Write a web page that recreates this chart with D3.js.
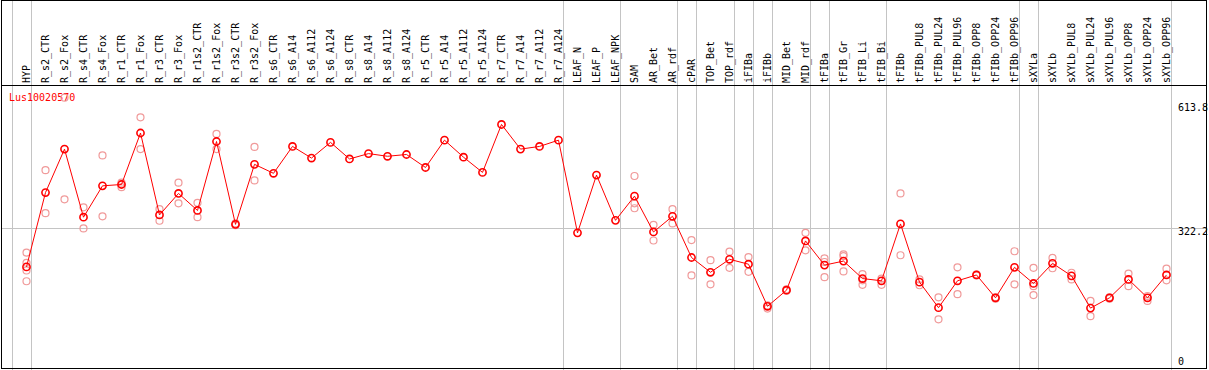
<!DOCTYPE html>
<html>
<head>
<meta charset="utf-8">
<script src="https://cdn.jsdelivr.net/npm/d3@7"></script>
<style>
  html, body { margin: 0; padding: 0; background: #fff; }
  svg { display: block; }
  text { font-family: 'DejaVu Sans Mono', monospace; font-size: 10px; }
</style>
</head>
<body>
<div id="chart"></div>
<script>
// ////////////////////////////////////////////////////////////////////////////
// DATA
// ////////////////////////////////////////////////////////////////////////////
const geneName = 'Lus10020570';

// sample groups, separated by grey rules
const groups = [
  ['HYP'],
  ['R_s2_CTR', 'R_s2_Fox', 'R_s4_CTR', 'R_s4_Fox', 'R_r1_CTR', 'R_r1_Fox', 'R_r3_CTR', 'R_r3_Fox',
    'R_r1s2_CTR', 'R_r1s2_Fox', 'R_r3s2_CTR', 'R_r3s2_Fox', 'R_s6_CTR', 'R_s6_A14', 'R_s6_A112',
    'R_s6_A124', 'R_s8_CTR', 'R_s8_A14', 'R_s8_A112', 'R_s8_A124', 'R_r5_CTR', 'R_r5_A14',
    'R_r5_A112', 'R_r5_A124', 'R_r7_CTR', 'R_r7_A14', 'R_r7_A112', 'R_r7_A124'],
  ['LEAF_N', 'LEAF_P', 'LEAF_NPK'],
  ['SAM', 'AR_Bet', 'AR_rdf'],
  ['cPAR'],
  ['TOP_Bet', 'TOP_rdf'],
  ['iFIBa'],
  ['iFIBb'],
  ['MID_Bet', 'MID_rdf'],
  ['tFIBa'],
  ['tFIB_Gr', 'tFIB_Li', 'tFIB_Bi'],
  ['tFIBb', 'tFIBb_PUL8', 'tFIBb_PUL24', 'tFIBb_PUL96', 'tFIBb_OPP8', 'tFIBb_OPP24', 'tFIBb_OPP96'],
  ['sXYLa'],
  ['sXYLb', 'sXYLb_PUL8', 'sXYLb_PUL24', 'sXYLb_PUL96', 'sXYLb_OPP8', 'sXYLb_OPP24', 'sXYLb_OPP96'],
];

const samples = groups.flat();

// mean expression per sample
const means = [
  236,
  402, 499, 347, 417, 420, 535, 352, 400, 362, 516, 331, 465,
  445, 505, 479, 514, 477, 489, 483, 487, 458, 519, 481, 447,
  554, 499, 505, 519,
  312, 441, 340,
  394, 314, 349,
  257,
  224, 253,
  242,
  148,
  184, 294,
  240,
  249, 210, 205,
  332, 202, 145, 205, 218, 167, 235,
  199,
  244, 216, 144, 167, 208, 167, 218,
];

// individual replicates per sample
const replicates = [
  [268, 245, 228, 204],
  [452, 356], [613.8, 387], [369, 322], [485, 349], [424, 414], [570, 499],
  [365, 339], [424, 378], [379, 347], [533, 499], [333, 329], [504, 429],
  [], [], [], [], [], [], [], [], [], [], [], [],
  [], [], [], [],
  [], [], [],
  [439, 378, 367], [330, 295], [365, 333],
  [296, 217],
  [251, 197], [270, 234],
  [258, 225],
  [150, 143],
  [186, 183], [312, 273],
  [255, 247, 213],
  [264, 260, 226], [220, 206, 196], [210, 196],
  [400, 262], [208, 195], [168, 119], [235, 175], [219, 217], [168, 165], [271, 197],
  [234, 193, 173],
  [256, 233], [223, 208], [160, 126], [168, 165], [221, 193], [171, 160], [232, 206],
];

const yTicks = [613.8, 322.2, 0];

// ////////////////////////////////////////////////////////////////////////////
// SETUP
// ////////////////////////////////////////////////////////////////////////////
const W = 1209;
const H = 370;
const labelBottom = 86;
const red = '#ff0000';
const pink = '#f09a9a';
const grey = '#c4c4c4';

const svg = d3.select('#chart').append('svg')
  .attr('width', W)
  .attr('height', H);

const x = d3.scalePoint()
  .domain(samples)
  .range([26.5, 1166.5]);

const y = d3.scaleLinear()
  .domain([0, 613.8])
  .range([372.6, 97.7]);

// ////////////////////////////////////////////////////////////////////////////
// GRID
// ////////////////////////////////////////////////////////////////////////////
// group separators sit just right of the last sample in each group
const sepX = [x(samples[0]) - x.step() + 4].concat(groups.map(g => x(g[g.length - 1]) + 4));

svg.selectAll('.sep')
  .data(sepX)
  .enter().append('line')
    .attr('class', 'sep')
    .attr('x1', d => Math.round(d) + 0.5)
    .attr('x2', d => Math.round(d) + 0.5)
    .attr('y1', 0)
    .attr('y2', H)
    .attr('stroke', grey);

svg.append('line')
  .attr('x1', 1)
  .attr('x2', 1206)
  .attr('y1', Math.round(y(322.2)) + 0.5)
  .attr('y2', Math.round(y(322.2)) + 0.5)
  .attr('stroke', grey);

// ////////////////////////////////////////////////////////////////////////////
// FRAME + LABELS
// ////////////////////////////////////////////////////////////////////////////
svg.append('rect')
  .attr('x', 1.5)
  .attr('y', 0.5)
  .attr('width', 1205)
  .attr('height', 368)
  .attr('fill', 'none')
  .attr('stroke', '#000');

svg.append('line')
  .attr('x1', 1)
  .attr('x2', 1206)
  .attr('y1', labelBottom - 0.5)
  .attr('y2', labelBottom - 0.5)
  .attr('stroke', '#000');

svg.selectAll('.sample-label')
  .data(samples)
  .enter().append('text')
    .attr('class', 'sample-label')
    .attr('transform', d => `translate(${x(d) + 3.5}, 83) rotate(-90)`)
    .attr('fill', '#000')
    .text(d => d);

svg.selectAll('.y-label')
  .data(yTicks)
  .enter().append('text')
    .attr('class', 'y-label')
    .attr('x', 1178)
    .attr('y', d => Math.max(111, Math.min(365, y(d) + 7)))
    .attr('fill', '#000')
    .text(d => d);

svg.append('text')
  .attr('x', 9)
  .attr('y', 101)
  .attr('fill', red)
  .text(geneName);

// ////////////////////////////////////////////////////////////////////////////
// POINTS
// ////////////////////////////////////////////////////////////////////////////
const repPoints = [];
replicates.forEach((reps, i) => {
  reps.forEach(v => repPoints.push({ sample: samples[i], value: v }));
});

svg.selectAll('.rep')
  .data(repPoints)
  .enter().append('circle')
    .attr('class', 'rep')
    .attr('cx', d => x(d.sample))
    .attr('cy', d => y(d.value))
    .attr('r', 3.5)
    .attr('fill', 'none')
    .attr('stroke', pink)
    .attr('stroke-width', 1.2);

const line = d3.line()
  .x((d, i) => x(samples[i]))
  .y(d => y(d));

svg.append('path')
  .datum(means)
  .attr('d', line)
  .attr('fill', 'none')
  .attr('stroke', red)
  .attr('stroke-width', 1);

svg.selectAll('.mean')
  .data(means)
  .enter().append('circle')
    .attr('class', 'mean')
    .attr('cx', (d, i) => x(samples[i]))
    .attr('cy', d => y(d))
    .attr('r', 3.6)
    .attr('fill', 'none')
    .attr('stroke', red)
    .attr('stroke-width', 1.6);
</script>
</body>
</html>
